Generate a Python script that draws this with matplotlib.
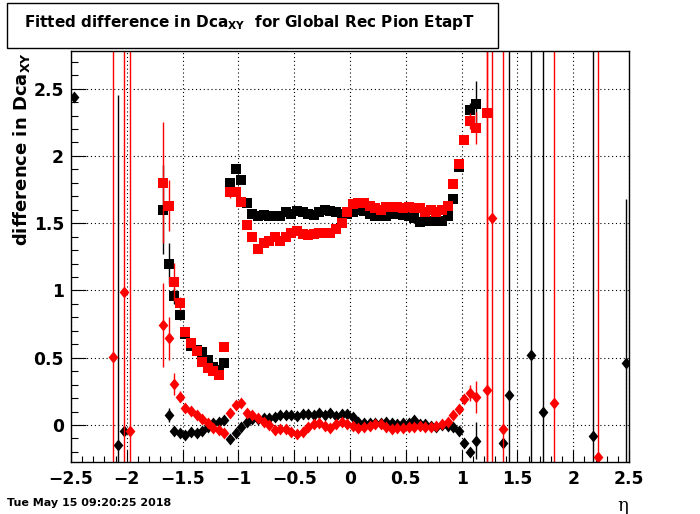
import numpy as np
import matplotlib
matplotlib.use("Agg")
import matplotlib.pyplot as plt
from matplotlib.patches import Rectangle
from matplotlib.ticker import MultipleLocator

plt.rcParams['font.family'] = ['DejaVu Sans']
plt.rcParams['mathtext.fontset'] = 'dejavusans'

# eta bin centres of the well populated region
eta = [-1.675, -1.625, -1.575, -1.525, -1.475, -1.425, -1.375, -1.325, -1.275, -1.225,
       -1.175, -1.125, -1.075, -1.025, -0.975, -0.925, -0.875, -0.825, -0.775, -0.725,
       -0.675, -0.625, -0.575, -0.525, -0.475, -0.425, -0.375, -0.325, -0.275, -0.225,
       -0.175, -0.125, -0.075, -0.025, 0.025, 0.075, 0.125, 0.175, 0.225, 0.275,
       0.325, 0.375, 0.425, 0.475, 0.525, 0.575, 0.625, 0.675, 0.725, 0.775,
       0.825, 0.875, 0.925, 0.975, 1.025, 1.075, 1.125]

black_sq = [1.60, 1.20, 0.958, 0.817, 0.68, 0.59, 0.56, 0.545, 0.483, 0.43,
            0.41, 0.46, 1.80, 1.90, 1.82, 1.65, 1.57, 1.55, 1.56, 1.555,
            1.555, 1.555, 1.58, 1.57, 1.59, 1.58, 1.57, 1.56, 1.585, 1.60,
            1.59, 1.58, 1.57, 1.57, 1.58, 1.60, 1.59, 1.57, 1.555, 1.55,
            1.555, 1.57, 1.57, 1.56, 1.55, 1.535, 1.51, 1.52, 1.52, 1.52,
            1.52, 1.555, 1.68, 1.92, 2.12, 2.345, 2.385]
black_sq_err = [0.33, 0.15, 0.06, 0.04] + [0.01] * 50 + [0.03, 0.05, 0.17]

red_sq = [1.80, 1.63, 1.065, 0.904, 0.693, 0.607, 0.55, 0.47, 0.425, 0.40,
          0.37, 0.577, 1.73, 1.73, 1.655, 1.49, 1.40, 1.31, 1.35, 1.37,
          1.40, 1.37, 1.40, 1.43, 1.44, 1.42, 1.41, 1.42, 1.43, 1.43,
          1.43, 1.46, 1.50, 1.58, 1.64, 1.65, 1.65, 1.63, 1.61, 1.60,
          1.62, 1.62, 1.62, 1.61, 1.62, 1.61, 1.61, 1.585, 1.60, 1.585,
          1.60, 1.63, 1.79, 1.94, 2.12, 2.26, 2.21]
red_sq_err = [0.45, 0.19, 0.14, 0.05] + [0.01] * 7 + [0.03, 0.04] + [0.01] * 41 + [0.03, 0.06, 0.12]

black_dia = [np.nan, 0.074, -0.045, -0.057, -0.074, -0.05, -0.057, -0.045, -0.012, 0.017,
             0.025, 0.037, -0.106, -0.057, -0.012, 0.025, 0.042, 0.045, 0.05, 0.05,
             0.062, 0.074, 0.074, 0.074, 0.07, 0.082, 0.08, 0.074, 0.092, 0.074,
             0.092, 0.07, 0.08, 0.082, 0.062, 0.025, 0.017, 0.012, 0.012, 0.017,
             0.025, 0.012, 0.007, 0.012, 0.017, 0.037, 0.007, 0.007, -0.007, -0.017,
             0.0, -0.007, -0.012, -0.042, -0.131, -0.198, -0.116]
black_dia_err = [0.0, 0.05, 0.03] + [0.01] * 51 + [0.02, 0.03, 0.14]

red_dia = [0.743, 0.644, 0.305, 0.21, 0.124, 0.106, 0.074, 0.042, 0.012, -0.02,
           -0.037, -0.057, 0.087, 0.149, 0.161, 0.092, 0.074, 0.05, 0.025, 0.0,
           -0.037, -0.032, -0.032, -0.05, -0.067, -0.05, -0.012, 0.005, 0.012, -0.005,
           -0.025, 0.005, 0.02, 0.007, -0.007, -0.025, -0.012, -0.007, 0.007, 0.007,
           -0.012, -0.032, -0.025, -0.025, -0.017, -0.017, -0.007, -0.012, -0.017, -0.007,
           0.007, 0.025, 0.074, 0.116, 0.19, 0.235, 0.21]
red_dia_err = [0.31, 0.16, 0.08, 0.04] + [0.01] * 50 + [0.02, 0.06, 0.12]

# sparse bins far out in eta (err of 9 = bar running through the whole frame)
black_dia_out_x = [-2.475, -2.075, -2.025, 1.375, 1.425, 1.625, 1.725, 2.175, 2.475]
black_dia_out_y = [2.44, -0.149, -0.042, -0.136, 0.223, 0.52, 0.094, -0.08, 0.458]
black_dia_out_err = [0.0, 2.6, 0.0, 0.0, 9, 9, 9, 9, 1.22]

red_dia_out_x = [-2.125, -2.025, -1.975, 1.225, 1.275, 1.375, 1.825, 2.225]
red_dia_out_y = [0.503, 0.986, -0.045, 0.26, 1.54, -0.03, 0.16, -0.235]
red_dia_out_err = [9, 9, 9, 9, 9, 9, 9, 9]

red_sq_out_x = [1.225]
red_sq_out_y = [2.32]
red_sq_out_err = [9]

diamond = [(0, 1), (0.82, 0), (0, -1), (-0.82, 0), (0, 1)]

fig = plt.figure(figsize=(7.0, 5.14), dpi=100)
ax = fig.add_axes([71 / 700, 1 - 462 / 514, 558 / 700, 411 / 514])


def draw(x, y, err, color, marker, ms):
    ax.errorbar(x, y, yerr=err, fmt='none', ecolor=color, elinewidth=1.0, capsize=0)
    ax.plot(x, y, linestyle='none', marker=marker, color=color, markersize=ms,
            markeredgewidth=0)


draw(eta, black_sq, black_sq_err, 'black', 's', 7.0)
draw(eta, red_sq, red_sq_err, '#ff0000', 's', 7.0)
draw(red_sq_out_x, red_sq_out_y, red_sq_out_err, '#ff0000', 's', 7.0)
draw(eta, black_dia, black_dia_err, 'black', diamond, 8.6)
draw(black_dia_out_x, black_dia_out_y, black_dia_out_err, 'black', diamond, 8.6)
draw(eta, red_dia, red_dia_err, '#ff0000', diamond, 8.6)
draw(red_dia_out_x, red_dia_out_y, red_dia_out_err, '#ff0000', diamond, 8.6)

ax.set_xlim(-2.5, 2.5)
ax.set_ylim(-0.275, 2.78)
ax.xaxis.set_major_locator(MultipleLocator(0.5))
ax.xaxis.set_minor_locator(MultipleLocator(0.1))
ax.yaxis.set_major_locator(MultipleLocator(0.5))
ax.yaxis.set_minor_locator(MultipleLocator(0.1))
ax.grid(True, which='major', color='black', linestyle=(0, (1, 2.5)), linewidth=0.8)
ax.set_axisbelow(True)
ax.tick_params(axis='x', which='major', direction='in', length=8.6, width=0.8,
               labelsize=12.3, pad=6, top=False)
ax.tick_params(axis='x', which='minor', direction='in', length=4.3, width=0.8, top=False)
ax.tick_params(axis='y', which='major', direction='in', length=10.8, width=0.8,
               labelsize=12.3, pad=5, right=False)
ax.tick_params(axis='y', which='minor', direction='in', length=5.2, width=0.8, right=False)
ax.set_xticks([-2.5, -2, -1.5, -1, -0.5, 0, 0.5, 1, 1.5, 2, 2.5])
ax.set_xticklabels(['\u22122.5', '\u22122', '\u22121.5', '\u22121', '\u22120.5', '0',
                    '0.5', '1', '1.5', '2', '2.5'], fontweight='bold')
ax.set_yticks([0, 0.5, 1, 1.5, 2, 2.5])
ax.set_yticklabels(['0', '0.5', '1', '1.5', '2', '2.5'], fontweight='bold')
for sp in ax.spines.values():
    sp.set_linewidth(1.0)

# title box
fig.patches.append(Rectangle((7 / 700, 1 - 48 / 514), 491 / 700, 45 / 514,
                             transform=fig.transFigure, facecolor='white',
                             edgecolor='black', linewidth=1.0))
fig.text(250 / 700, 1 - 23 / 514,
         r'Fitted difference in Dca$_{\mathbf{XY}}$  for Global Rec Pion EtapT',
         ha='center', va='center', fontsize=11, fontweight='bold')

fig.text(22 / 700, 1 - 52 / 514, r'difference in Dca$_{\mathbf{XY}}$', rotation=90,
         ha='center', va='top', fontsize=13, fontweight='bold')
fig.text(623 / 700, 1 - 506 / 514, '\u03b7', ha='center', va='center', fontsize=13,
         family='DejaVu Serif')
fig.text(7 / 700, 1 - 503 / 514, 'Tue May 15 09:20:25 2018', ha='left', va='center',
         fontsize=8, fontweight='bold')

fig.savefig('out.png', dpi=100)
